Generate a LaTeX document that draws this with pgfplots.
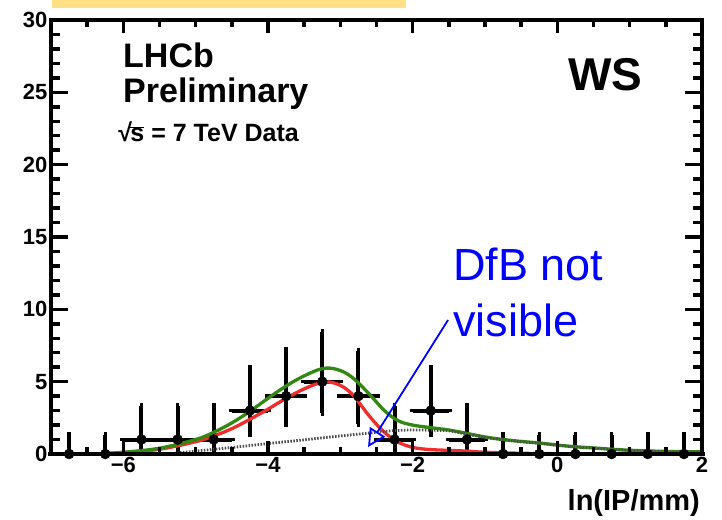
\documentclass[border=0pt]{standalone}
\usepackage{pgfplots}
\pgfplotsset{compat=1.18}
\usepackage{fontspec}
\setmainfont{Liberation Sans}
\usetikzlibrary{arrows.meta}
\definecolor{rootgreen}{RGB}{51,136,17}
\definecolor{rootred}{RGB}{240,45,45}
\definecolor{gold}{RGB}{255,224,133}
\definecolor{annblue}{RGB}{0,0,255}

\pgfplotstableread{
x y em ep
-6.75 0 0 1.3
-6.25 0 0 1.3
-5.75 1 0.83 2.3
-5.25 1 0.83 2.3
-4.75 1 0.83 2.3
-4.25 3 1.63 2.95
-3.75 4 1.9 3.2
-3.25 5 2.16 3.4
-2.75 4 1.9 3.1
-2.25 1 0.83 2.3
-1.75 3 1.63 2.95
-1.25 1 0.83 2.35
-0.75 0 0 1.3
-0.25 0 0 1.3
0.25 0 0 1.3
0.75 0 0 1.3
1.25 0 0 1.3
1.75 0 0 1.3
}\datatable

\tikzset{tk/.style={black, line width=3.5pt}}

\begin{document}
\begin{tikzpicture}
\path[use as bounding box] (0,0) rectangle (722pt,519pt);
\fill[gold] (52pt,511pt) rectangle (406pt,519pt);
\begin{axis}[
  at={(51pt,65pt)}, anchor=south west,
  scale only axis, width=651pt, height=434pt,
  xmin=-7, xmax=2, ymin=0, ymax=30,
  clip=false,
  xtick={-6,-4,-2,0,2}, ytick={0,5,...,30},
  xticklabels={−6,−4,−2,0,2},
  major tick length=13pt,
  tick style={black, line width=3.5pt},
  axis line style={line width=4pt, black},
  tick label style={font=\fontsize{22}{22}\selectfont\bfseries},
  /pgf/number format/assume math mode=true,
  xlabel={ln(IP/mm)},
  xlabel style={at={(axis description cs:1,0)}, anchor=base east, yshift=-56pt, xshift=-2pt, inner sep=0pt, font=\fontsize{29}{29}\selectfont\bfseries},
]
\addplot[black, only marks, mark=*, mark size=5pt,
  error bars/.cd, x dir=both, x fixed=0.25, y dir=both, y explicit,
  error bar style={line width=4pt, black},
  error mark options={line width=3.5pt, mark size=3pt, black}]
  table[x=x, y=y, y error plus=ep, y error minus=em] {\datatable};

\addplot[rootred, line width=3.3pt, smooth, tension=0.6] coordinates {
(-6.4,0) (-6.0,0.1) (-5.5,0.33) (-5.0,0.85) (-4.75,1.25) (-4.5,1.75) (-4.25,2.4) (-4.0,3.1) (-3.75,3.85) (-3.5,4.5) (-3.25,4.95) (-3.05,4.85) (-2.85,4.2) (-2.62,2.75) (-2.5,2.05) (-2.39,1.5) (-2.25,0.95) (-2.1,0.6) (-2.0,0.45) (-1.8,0.32) (-1.5,0.25) (-1.25,0.2) (-1.0,0.12) (-0.5,0.05) (0,0.02) (0.5,0)
};
\addplot[rootgreen, line width=3.3pt, smooth, tension=0.6] coordinates {
(-6.4,0) (-6.0,0.12) (-5.5,0.4) (-5.0,1.0) (-4.75,1.5) (-4.5,2.15) (-4.25,2.95) (-4.0,3.85) (-3.75,4.7) (-3.5,5.4) (-3.25,5.9) (-3.05,5.85) (-2.85,5.35) (-2.62,4.25) (-2.39,3.0) (-2.2,2.3) (-2.0,2.0) (-1.75,1.82) (-1.5,1.66) (-1.25,1.42) (-1.0,1.18) (-0.75,1.0) (-0.5,0.87) (-0.25,0.76) (0,0.62) (0.25,0.5) (0.5,0.42) (0.75,0.33) (1.0,0.26) (1.25,0.21) (1.5,0.18) (1.75,0.16) (2.0,0.15)
};
\addplot[black!70, line width=2.8pt, dash pattern=on 1.5pt off 1.5pt, smooth, tension=0.5] coordinates {
(-5.3,0.05) (-4.5,0.45) (-4.0,0.72) (-3.5,0.98) (-3.0,1.25) (-2.5,1.5) (-2.3,1.6) (-2.1,1.65) (-1.9,1.66) (-1.75,1.64) (-1.5,1.6) (-1.25,1.38) (-1.0,1.14) (-0.75,0.98) (-0.5,0.85) (-0.25,0.74) (0,0.6) (0.25,0.49) (0.5,0.41) (0.75,0.32) (1.0,0.25) (1.25,0.2) (1.5,0.17) (1.75,0.15) (2.0,0.14)
};

% frame and ROOT-style inside ticks (lengths given in axis units)
\pgfplotsinvokeforeach{-6,-4,-2,0}{
  \draw[tk] (axis cs:#1,0) -- (axis cs:#1,0.9);
  \draw[tk] (axis cs:#1,30) -- (axis cs:#1,29.1);
}
\pgfplotsinvokeforeach{-6.5,-5.5,-5,-4.5,-3.5,-3,-2.5,-1.5,-1,-0.5,0.5,1,1.5}{
  \draw[tk] (axis cs:#1,0) -- (axis cs:#1,0.48);
  \draw[tk] (axis cs:#1,30) -- (axis cs:#1,29.52);
}
\pgfplotsinvokeforeach{5,10,15,20,25}{
  \draw[tk] (axis cs:-7,#1) -- (axis cs:-6.765,#1);
  \draw[tk] (axis cs:2,#1) -- (axis cs:1.765,#1);
}
\pgfplotsinvokeforeach{1,2,3,4,6,7,8,9,11,12,13,14,16,17,18,19,21,22,23,24,26,27,28,29}{
  \draw[tk] (axis cs:-7,#1) -- (axis cs:-6.876,#1);
  \draw[tk] (axis cs:2,#1) -- (axis cs:1.876,#1);
}
\draw[black, line width=4pt] (axis cs:-7,0) rectangle (axis cs:2,30);

\node[anchor=base west, inner sep=0pt, font=\fontsize{34}{34}\selectfont\bfseries] at (axis description cs:0.1106,0.8917) {LHCb};
\node[anchor=base west, inner sep=0pt, font=\fontsize{34}{34}\selectfont\bfseries] at (axis description cs:0.1106,0.811) {Preliminary};
\node[anchor=base west, inner sep=0pt, font=\fontsize{25}{25}\selectfont\bfseries] at (axis description cs:0.1030,0.719) {√\kern-0.06em\(\overline{\hbox{s}}\) = 7 TeV Data};
\node[anchor=base east, inner sep=0pt, font=\fontsize{46}{46}\selectfont\bfseries] at (axis description cs:0.909,0.8387) {WS};
\node[anchor=base west, inner sep=0pt, text=annblue, font=\fontsize{45}{45}\selectfont] at (axis description cs:0.6175,0.4009) {DfB not};
\node[anchor=base west, inner sep=0pt, text=annblue, font=\fontsize{45}{45}\selectfont] at (axis description cs:0.6175,0.2696) {visible};
\draw[annblue, line width=1.8pt, -{Triangle[open, length=18pt, width=18pt]}] (axis cs:-1.511,9.26) -- (axis cs:-2.617,0.48);
\end{axis}
\end{tikzpicture}
\end{document}
